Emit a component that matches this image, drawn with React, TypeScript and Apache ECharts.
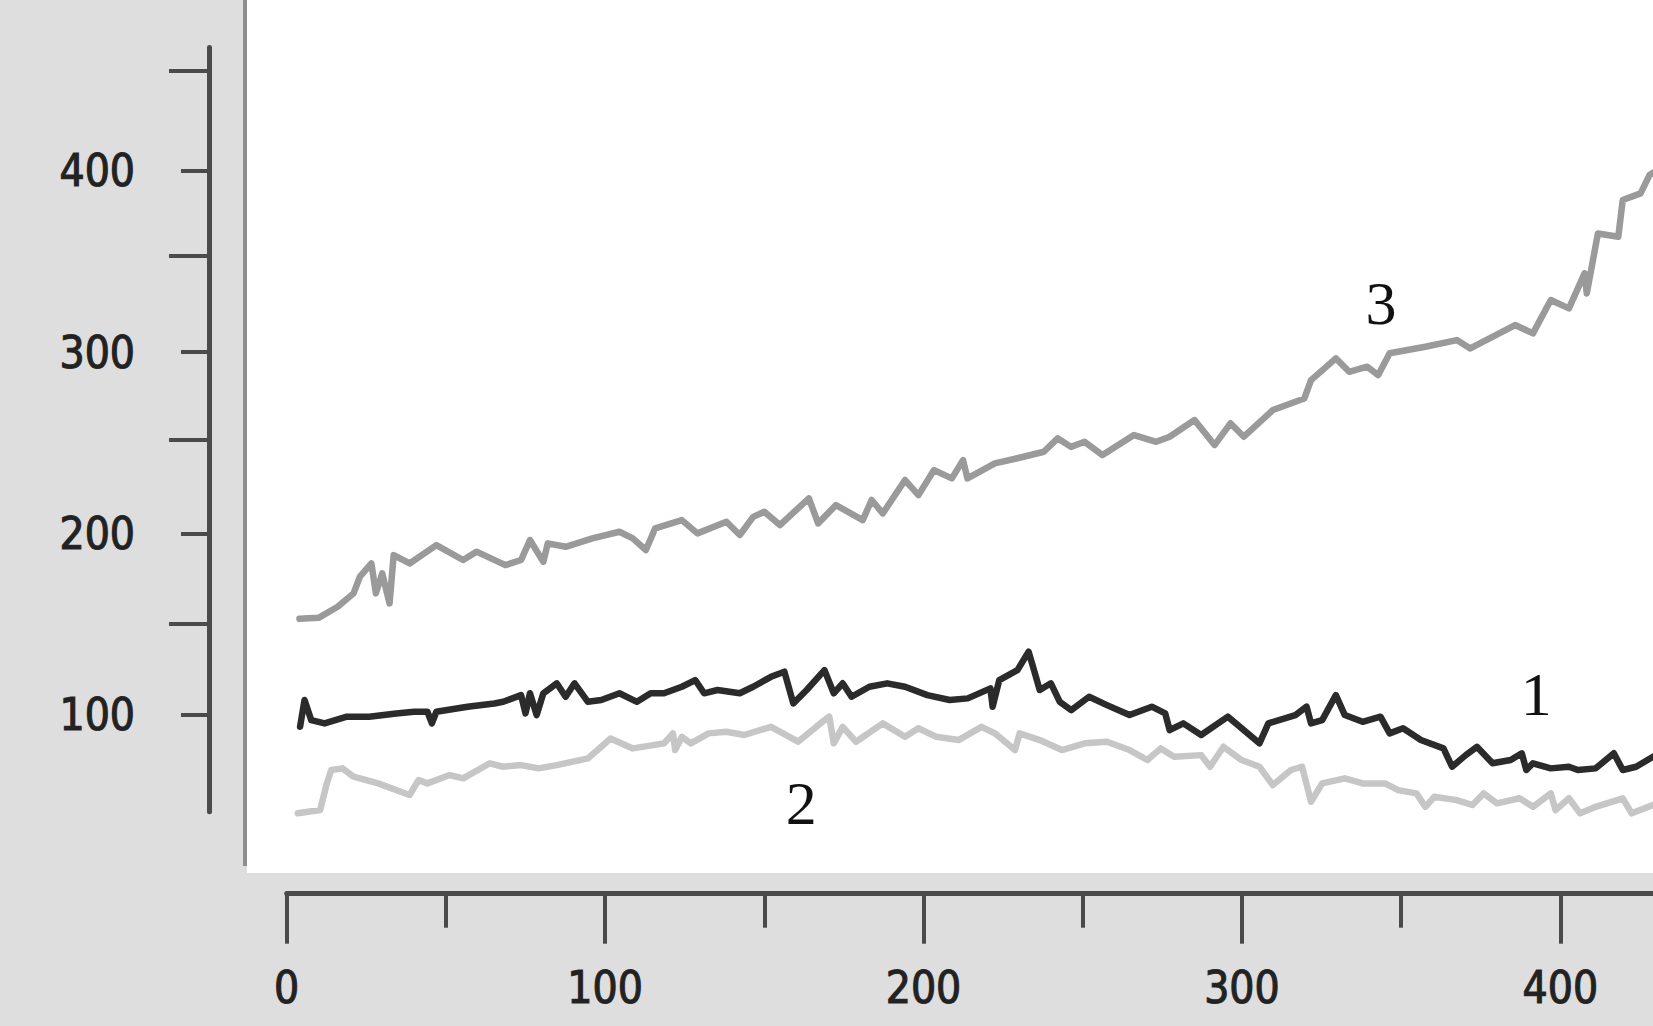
import React, { useEffect, useRef } from "react";
import * as echarts from "echarts";

// ---- tick values ----
const xTickLabels = [0, 100, 200, 300, 400];
const xMinorTicks = [50, 150, 250, 350];
const yTickLabels = [100, 200, 300, 400];
const yMinorTicks = [150, 252, 353, 455];

// ---- series 1 (dark) ----
const s1X = [
  4.2, 5.6, 7.7, 11.9, 18.9, 25.9, 34.4, 40, 44.2, 45.6, 47, 56.8, 65.2, 68, 73.6, 75, 76.4, 78.5, 80.6, 84.8,
  87.6, 90.4, 94.6, 98.8, 104.5, 110, 114.3, 118.5, 124.1, 128.3, 131.1, 135.3, 142.3, 146.5, 152.1, 156.3,
  159.1, 163.3, 168.9, 171.8, 174.6, 177.4, 183, 188.6, 194.2, 201.2, 208.2,
  213.9, 221, 221.7, 223.8, 229.5, 233, 234.4, 236.5, 240, 242.8, 246.4, 252, 257.6, 264.7, 271.7, 275.9,
  277.3, 281.6, 287.2, 295.6, 305.5, 308.3, 316.8, 320.3, 321.7, 325.2, 329.5, 332.3, 337.9, 343.5, 346.4,
  350.6, 356.2, 363.3, 366, 370.3, 373.8, 378.7, 384.4, 387.9, 389.3, 391.4, 397, 402.7, 405.5, 411.1, 416.8,
  419.6, 423.8, 429.1,
];
const s1Y = [
  93.4, 108.2, 97.1, 95.3, 99, 99, 100.8, 101.7, 101.7, 95.3, 101.7, 104.5, 106.3, 107.2, 110.9, 100.8, 111.9,
  99.9, 111.9, 117.4, 110, 117.4, 107.2, 108.2, 111.9, 107.2, 111.9, 111.9, 115.5, 119.2, 111.9, 113.7, 111.9,
  115.5, 121, 123.8, 106.3, 113.7, 124.7, 111.9, 117.4, 110, 115.5, 117.4, 115.5, 110.9, 108.2,
  109.1, 114.6, 104.5, 119.2, 124.7, 134.8, 126.5, 113.7, 117.4, 107.2, 102.6, 110, 105.4, 99.9, 104.5, 100.8,
  91.6, 95.3, 88.9, 99, 84.3, 95.3, 99.9, 104.5, 95.3, 97.1, 110.9, 99.9, 96.2, 99, 89.8, 92.6, 86.1, 81.5,
  71.4, 77.8, 82.4, 73.3, 75.1, 78.8, 69.6, 73.3, 70.5, 71.4, 69.6, 70.5, 78.8, 69.6, 71.4, 76.9,
];

// ---- series 2 (light grey) ----
const s2X = [
  3.5, 10.5, 12.6, 14, 17.5, 21, 28.7, 38.6, 41.4, 44.2, 51.2, 55.4, 63.8, 68, 73.6, 79.1, 84.8, 94.6, 98.8,
  101.7, 108.7, 118.5, 121.3, 122, 124.1, 126.9, 132.5, 138.1, 143.7, 152.1, 160.6, 167.6, 170.4, 171.8, 174.6,
  178.8, 187.2, 194.2, 198.4, 204, 211, 218.2, 222.4, 228.7, 230.2, 236.5, 243.5, 250.6, 257.6, 264.7, 270.3,
  274.5, 278.7, 287.2, 290, 294.2, 299.9, 305.5, 309.7, 315.4, 318.9, 321.7, 325.2, 332.3, 337.9, 344.9, 349.1,
  354.8, 357.6, 360.4, 367.5, 372.4, 375.9, 380.1, 387.2, 391.4, 397, 398.5, 402.7, 406.2, 411.1, 419.6, 422.4,
  429.1,
];
const s2Y = [
  45.7, 47.5, 62.2, 69.6, 70.5, 65.9, 62.2, 55.8, 64, 62.2, 66.8, 65, 73.3, 71.4, 72.3, 70.5, 72.3, 76, 82.4, 87,
  81.5, 84.3, 89.8, 80.6, 87.9, 84.3, 89.8, 90.7, 88.9, 93.4, 85.2, 95.3, 99, 84.3, 93.4, 85.2, 95.3, 87.9, 92.6,
  87.9, 86.1, 93.4, 89.8, 80.6, 89.8, 86.1, 80.6, 84.3, 85.2, 80.6, 75.1, 81.5, 76.9, 77.8, 71.4, 82.4, 75.1,
  71.4, 61.3, 69.6, 71.4, 52.1, 62.2, 65, 62.2, 62.2, 58.5, 56.7, 49.3, 54.8, 53, 50.3, 56.7, 51.2, 54, 49.3,
  56.7, 47.5, 54, 45.7, 49.3, 54, 45.7, 50.3,
];

// ---- series 3 (mid grey) ----
const s3X = [
  4, 10, 16, 21, 23, 26.6, 28, 30, 32.3, 33.6, 38.6, 47, 55.4, 59.6, 68.7, 73.6, 76.4, 80.6, 82, 87.6, 96, 104.5,
  108.7, 112.8, 115.7, 124.1, 129, 138.1, 142.3, 146.5, 150, 154.9, 164, 166.9, 172.5, 180.9, 183.7, 187.2, 194.2,
  198.4, 203.3, 208.9, 212.4, 213.8, 222.4, 229.5, 237.8, 242.1, 246.3, 250.6, 256.2, 266.1, 273.1, 277.3, 285.1,
  291.4, 296.4, 300.6, 309.7, 319.6, 321.7, 329.5, 333.7, 339.3, 342.8, 346.4, 357.6, 367.5, 371.7, 385.8, 391.4,
  397, 402.7, 407.6, 408.3, 411.8, 418.2, 419.6, 425.2, 428, 430,
];
const s3Y = [
  153, 153.5, 159.6, 167, 176.2, 183.5, 167, 178, 161.5, 188.1, 183.5, 193.6, 185.4, 190, 182.6, 185.4, 196.4,
  184.4, 194.6, 192.7, 197.3, 201, 197.3, 190.9, 202.8, 207.4, 200.1, 206.5, 199.2, 209.2, 212, 204.7, 219.4,
  205.6, 215.7, 207.4, 218.5, 211.1, 229.5, 221.2, 235, 230.4, 240.5, 230.4, 238.7, 241.5, 245.1, 252.5, 247.8,
  250.6, 243.3, 254.3, 250.6, 253.4, 262.6, 248.8, 260.8, 253.4, 268.1, 274.5, 284.6, 296.6, 289.2, 292, 287.4,
  299.4, 303, 306.7, 302.1, 315, 310.4, 328.8, 324.2, 343.5, 332.4, 365.5, 363.7, 383.9, 387.6, 397.7, 400,
];

// ---- series names and their in-plot label anchors (data coords) ----
const seriesNames = ["1", "2", "3"];
const labelAnchorX = [392.4, 161.6, 343.7];
const labelAnchorY = [111.5, 51.3, 327];

const X_MIN = 0;
const X_MAX = 429.1;
const Y_MIN = 46.6;
const Y_MAX = 468.1;

const AXIS_COLOR = "#4a4a4a";
const LABEL_FONT = "'DejaVu Sans Condensed', 'Liberation Sans Narrow', 'DejaVu Sans', sans-serif";

function pairs(xs: number[], ys: number[]) {
  return xs.map((x, i) => [x, ys[i]]);
}

export default function App() {
  const ref = useRef<HTMLDivElement>(null);

  useEffect(() => {
    if (!ref.current) return;
    const chart = echarts.init(ref.current, undefined, { renderer: "svg" });

    const lineColors = ["#2b2b2b", "#c6c6c6", "#9a9a9a"];
    const data = [pairs(s1X, s1Y), pairs(s2X, s2Y), pairs(s3X, s3Y)];

    const axisLabelStyle = {
      fontFamily: LABEL_FONT,
      fontSize: 44,
      fontWeight: "normal" as const,
      color: "#222222",
      textBorderColor: "#333333",
      textBorderWidth: 1.2,
    };

    chart.setOption({
      animation: false,
      backgroundColor: "#dedede",
      grid: {
        left: 286.7,
        right: 0,
        top: 47.4,
        bottom: 1026 - 811.7,
        outerBoundsMode: "none",
      },
      graphic: [
        {
          type: "rect",
          silent: true,
          z: -10,
          shape: { x: 247, y: 0, width: 1653 - 247, height: 873 },
          style: { fill: "#ffffff" },
        },
        {
          type: "rect",
          silent: true,
          z: -9,
          shape: { x: 243, y: 0, width: 4, height: 866 },
          style: { fill: "#8e8e8e" },
        },
      ],
      xAxis: [
        {
          type: "value",
          min: X_MIN,
          max: X_MAX,
          position: "bottom",
          offset: 82,
          axisLine: { show: true, onZero: false, lineStyle: { color: AXIS_COLOR, width: 5 } },
          axisTick: {
            show: true,
            length: 50,
            customValues: xTickLabels,
            lineStyle: { color: AXIS_COLOR, width: 4 },
          },
          axisLabel: { show: true, customValues: xTickLabels, margin: 72, ...axisLabelStyle },
          splitLine: { show: false },
        },
        {
          type: "value",
          min: X_MIN,
          max: X_MAX,
          position: "bottom",
          offset: 82,
          axisLine: { show: false, onZero: false },
          axisTick: {
            show: true,
            length: 34,
            customValues: xMinorTicks,
            lineStyle: { color: AXIS_COLOR, width: 4 },
          },
          axisLabel: { show: false },
          splitLine: { show: false },
        },
      ],
      yAxis: [
        {
          type: "value",
          min: Y_MIN,
          max: Y_MAX,
          position: "left",
          offset: 77.7,
          axisLine: { show: true, onZero: false, lineStyle: { color: AXIS_COLOR, width: 5 } },
          axisTick: {
            show: true,
            length: 28,
            customValues: yTickLabels,
            lineStyle: { color: AXIS_COLOR, width: 4 },
          },
          axisLabel: { show: true, customValues: yTickLabels, margin: 74, ...axisLabelStyle },
          splitLine: { show: false },
        },
        {
          type: "value",
          min: Y_MIN,
          max: Y_MAX,
          position: "left",
          offset: 77.7,
          axisLine: { show: false, onZero: false },
          axisTick: {
            show: true,
            length: 40,
            customValues: yMinorTicks,
            lineStyle: { color: AXIS_COLOR, width: 4 },
          },
          axisLabel: { show: false },
          splitLine: { show: false },
        },
      ],
      series: seriesNames.map((name, i) => ({
        name,
        type: "line",
        xAxisIndex: 0,
        yAxisIndex: 0,
        data: data[i],
        showSymbol: false,
        symbol: "none",
        clip: false,
        z: i === 0 ? 5 : 3,
        lineStyle: { color: lineColors[i], width: 6.5, join: "round", cap: "round" },
        markPoint: {
          silent: true,
          symbol: "circle",
          symbolSize: 0,
          data: [{ coord: [labelAnchorX[i], labelAnchorY[i]], value: name }],
          label: {
            show: true,
            position: "inside",
            formatter: name,
            fontFamily: "'Liberation Serif', 'DejaVu Serif', serif",
            fontSize: 62,
            color: "#111111",
          },
        },
      })),
    });

    return () => {
      chart.dispose();
    };
  }, []);

  return (
    <div
      ref={ref}
      style={{ position: "absolute", left: 0, top: 0, width: 1653, height: 1026 }}
    />
  );
}
